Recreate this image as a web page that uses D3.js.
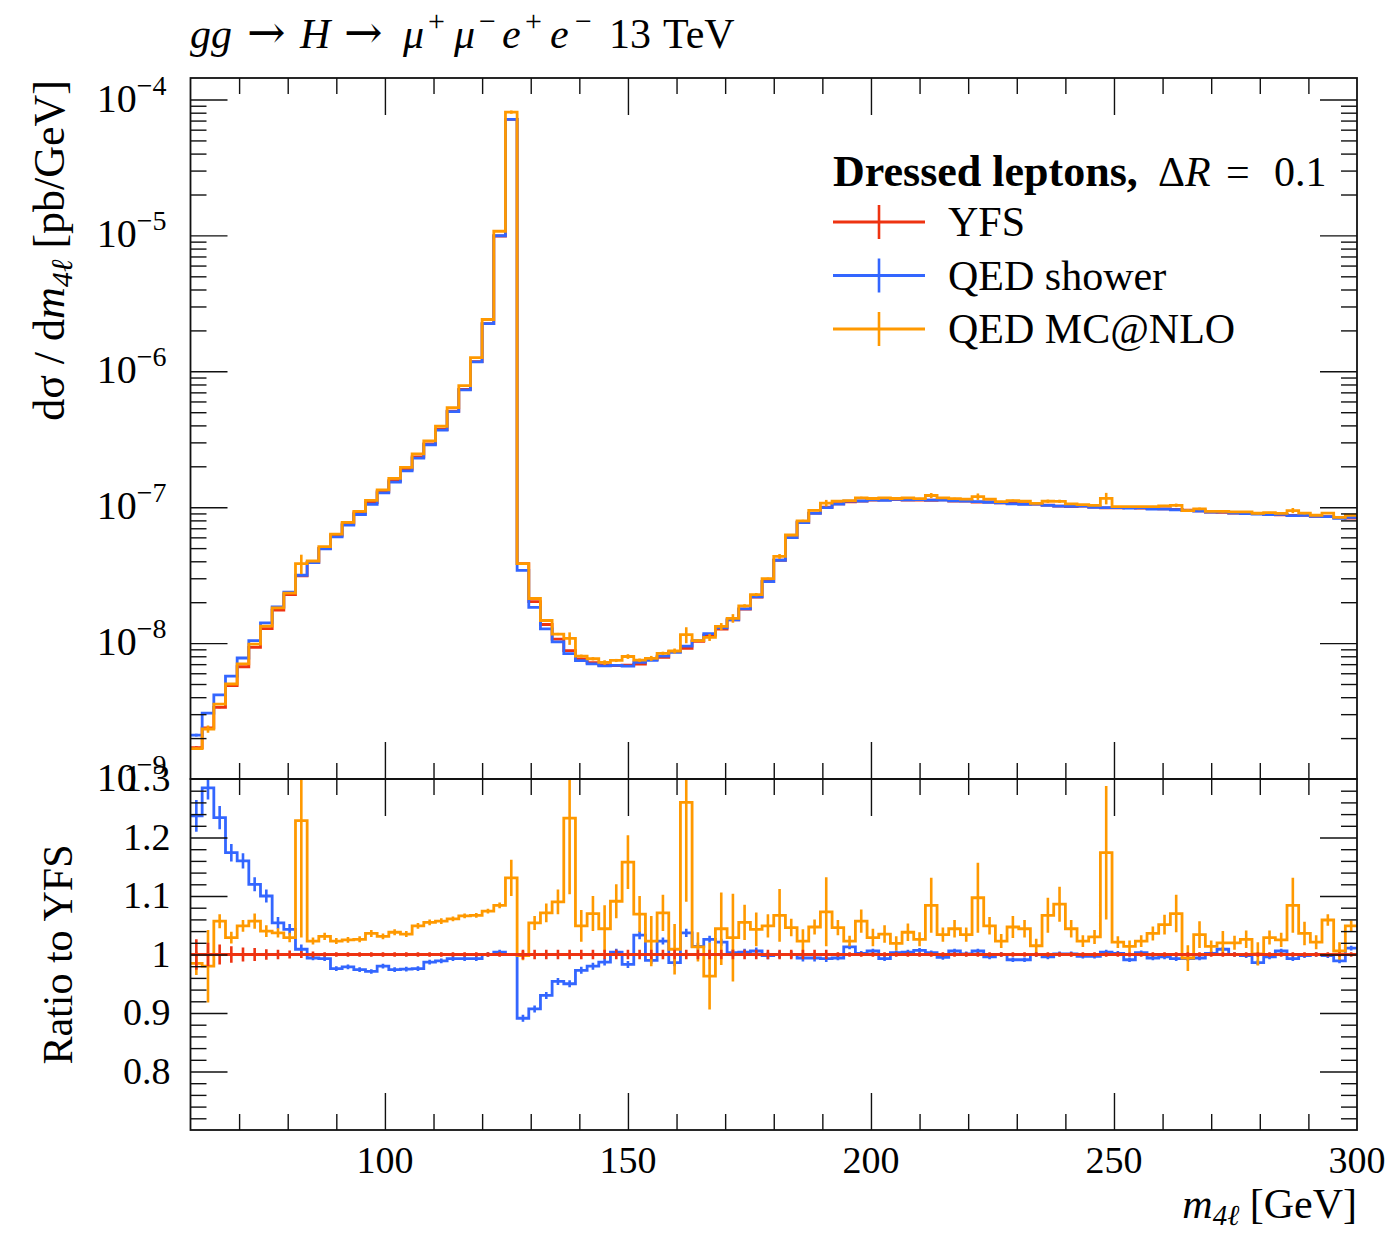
<!DOCTYPE html>
<html>
<head>
<meta charset="utf-8">
<script src="https://cdn.jsdelivr.net/npm/d3@7"></script>
<style>
  body { margin: 0; background: #fff; }
  text { font-family: "Liberation Serif", "DejaVu Serif", serif; fill: #000; }
</style>
</head>
<body>
<svg id="chart" width="1391" height="1234"></svg>
<script>
// binning: 100 bins of 2.4 GeV from 60 to 300
const binLow = 60, binWidth = 2.4, nBins = 100;

// YFS dσ/dm4l [pb/GeV]
const yfsXsec = [1.7e-9, 2.38e-9, 3.37e-9, 4.86e-9, 6.7e-9, 9.3e-9, 1.28e-8, 1.75e-8, 2.27e-8, 3.13e-8,
  3.93e-8, 4.97e-8, 6.2e-8, 7.54e-8, 9.07e-8, 1.083e-7, 1.30e-7, 1.57e-7, 1.90e-7, 2.35e-7,
  2.92e-7, 3.73e-7, 5.09e-7, 7.36e-7, 1.18e-6, 2.24e-6, 9.9e-6, 7.15e-5, 3.85e-8, 2.02e-8,
  1.37e-8, 1.07e-8, 8.8e-9, 7.65e-9, 7.17e-9, 6.9e-9, 6.83e-9, 6.88e-9, 7.0e-9, 7.55e-9,
  7.85e-9, 8.67e-9, 9.15e-9, 1.03e-8, 1.145e-8, 1.27e-8, 1.48e-8, 1.78e-8, 2.18e-8, 2.84e-8,
  4.07e-8, 5.97e-8, 7.75e-8, 9.05e-8, 1.0e-7, 1.06e-7, 1.093e-7, 1.109e-7, 1.126e-7, 1.132e-7,
  1.137e-7, 1.129e-7, 1.129e-7, 1.125e-7, 1.133e-7, 1.109e-7, 1.108e-7, 1.091e-7, 1.092e-7, 1.076e-7,
  1.069e-7, 1.06e-7, 1.053e-7, 1.037e-7, 1.018e-7, 1.012e-7, 1.021e-7, 1.002e-7, 9.9e-8, 9.9e-8,
  9.96e-8, 9.87e-8, 9.75e-8, 9.73e-8, 9.65e-8, 9.5e-8, 9.4e-8, 9.2e-8, 9.15e-8, 9.05e-8,
  9.0e-8, 9.02e-8, 8.87e-8, 8.8e-8, 8.72e-8, 8.72e-8, 8.55e-8, 8.53e-8, 8.38e-8, 8.32e-8];

// YFS relative stat. error (ratio units)
const yfsErr = [0.026, 0.02, 0.017, 0.014, 0.012, 0.011, 0.009, 0.008, 0.007, 0.006,
  0.005, 0.004, 0.004, 0.004, 0.004, 0.004, 0.004, 0.004, 0.004, 0.004,
  0.004, 0.004, 0.004, 0.004, 0.004, 0.004, 0.004, 0.002, 0.008, 0.008,
  0.008, 0.008, 0.008, 0.008, 0.008, 0.008, 0.008, 0.008, 0.008, 0.008,
  0.008, 0.008, 0.008, 0.008, 0.008, 0.008, 0.008, 0.008, 0.008, 0.008,
  0.008, 0.008, 0.008, 0.008, 0.008, 0.004, 0.004, 0.004, 0.004, 0.004,
  0.004, 0.004, 0.004, 0.004, 0.004, 0.004, 0.004, 0.004, 0.004, 0.004,
  0.004, 0.004, 0.004, 0.004, 0.004, 0.004, 0.004, 0.004, 0.004, 0.004,
  0.004, 0.004, 0.004, 0.004, 0.004, 0.004, 0.004, 0.004, 0.004, 0.004,
  0.004, 0.004, 0.004, 0.004, 0.004, 0.004, 0.004, 0.004, 0.004, 0.004];

// QED shower / YFS
const showerRatio = [1.237, 1.285, 1.234, 1.174, 1.16, 1.12, 1.10, 1.054, 1.043, 1.009,
  0.994, 0.993, 0.976, 0.979, 0.974, 0.971, 0.98, 0.974, 0.975, 0.976,
  0.987, 0.989, 0.993, 0.993, 0.993, 1.0, 1.004, 1.0, 0.891, 0.907,
  0.93, 0.954, 0.95, 0.973, 0.98, 0.987, 1.004, 0.983, 1.033, 0.99,
  1.023, 0.986, 1.037, 1.014, 1.026, 1.021, 1.003, 1.004, 1.006, 0.998,
  1.0, 1.0, 0.994, 0.994, 0.993, 0.994, 1.013, 1.002, 1.006, 0.993,
  1.003, 1.004, 1.007, 1.003, 0.995, 1.006, 1.001, 1.006, 0.996, 1.0,
  0.991, 0.991, 1.0, 0.996, 1.001, 1.001, 0.997, 0.997, 1.004, 1.002,
  0.991, 1.003, 0.994, 0.996, 0.993, 0.993, 0.994, 1.002, 1.009, 1.0,
  0.998, 0.986, 0.996, 1.006, 0.993, 0.998, 1.0, 0.998, 0.989, 1.011];

const showerErr = [0.027, 0.02, 0.02, 0.015, 0.013, 0.012, 0.011, 0.01, 0.009, 0.008,
  0.004, 0.004, 0.004, 0.004, 0.004, 0.004, 0.004, 0.004, 0.004, 0.004,
  0.004, 0.004, 0.004, 0.004, 0.004, 0.004, 0.004, 0.002, 0.006, 0.006,
  0.006, 0.006, 0.006, 0.006, 0.006, 0.006, 0.006, 0.006, 0.007, 0.006,
  0.006, 0.006, 0.007, 0.006, 0.006, 0.006, 0.006, 0.006, 0.006, 0.006,
  0.006, 0.006, 0.006, 0.006, 0.006, 0.004, 0.004, 0.004, 0.004, 0.004,
  0.004, 0.004, 0.004, 0.004, 0.004, 0.004, 0.004, 0.004, 0.004, 0.004,
  0.004, 0.004, 0.004, 0.004, 0.004, 0.004, 0.004, 0.004, 0.004, 0.004,
  0.004, 0.004, 0.004, 0.004, 0.004, 0.004, 0.004, 0.004, 0.004, 0.004,
  0.004, 0.004, 0.004, 0.004, 0.004, 0.004, 0.004, 0.004, 0.004, 0.004];

// QED MC@NLO / YFS
const mcnloRatio = [0.985, 0.98, 1.057, 1.029, 1.049, 1.057, 1.04, 1.037, 1.029, 1.229,
  1.023, 1.031, 1.023, 1.025, 1.026, 1.036, 1.031, 1.038, 1.035, 1.049,
  1.055, 1.057, 1.061, 1.066, 1.067, 1.074, 1.084, 1.131, 0.998, 1.054,
  1.071, 1.09, 1.233, 1.049, 1.07, 1.044, 1.091, 1.158, 1.069, 1.023,
  1.071, 1.009, 1.26, 1.013, 0.963, 1.044, 1.029, 1.055, 1.043, 1.049,
  1.067, 1.046, 1.023, 1.047, 1.073, 1.046, 1.023, 1.057, 1.029, 1.035,
  1.019, 1.038, 1.026, 1.084, 1.034, 1.044, 1.034, 1.097, 1.049, 1.023,
  1.047, 1.044, 1.015, 1.067, 1.086, 1.044, 1.023, 1.03, 1.174, 1.021,
  1.014, 1.023, 1.036, 1.051, 1.07, 0.994, 1.034, 1.014, 1.02, 1.02,
  1.026, 1.001, 1.029, 1.025, 1.084, 1.036, 1.021, 1.059, 1.006, 1.049];

const mcnloErr = [0.02, 0.062, 0.012, 0.01, 0.01, 0.013, 0.01, 0.008, 0.008, 0.2,
  0.006, 0.006, 0.005, 0.005, 0.005, 0.006, 0.005, 0.005, 0.005, 0.005,
  0.005, 0.005, 0.004, 0.004, 0.004, 0.004, 0.005, 0.031, 0.008, 0.012,
  0.016, 0.021, 0.13, 0.027, 0.03, 0.04, 0.029, 0.046, 0.031, 0.043,
  0.031, 0.043, 0.17, 0.025, 0.057, 0.062, 0.075, 0.03, 0.029, 0.02,
  0.045, 0.015, 0.02, 0.013, 0.059, 0.013, 0.009, 0.02, 0.015, 0.015,
  0.012, 0.015, 0.012, 0.047, 0.012, 0.015, 0.012, 0.06, 0.015, 0.012,
  0.019, 0.015, 0.012, 0.03, 0.03, 0.015, 0.01, 0.012, 0.114, 0.01,
  0.01, 0.01, 0.012, 0.017, 0.032, 0.022, 0.023, 0.01, 0.02, 0.012,
  0.015, 0.02, 0.012, 0.012, 0.047, 0.02, 0.012, 0.01, 0.015, 0.009];

const seriesNames = ["YFS", "QED shower", "QED MC@NLO"];
const seriesColors = ["#EE3311", "#3366FF", "#FF9900"];

const mainYTicks = [1e-9, 1e-8, 1e-7, 1e-6, 1e-5, 1e-4];
const ratioYTicks = [0.8, 0.9, 1, 1.1, 1.2, 1.3];
const xTicks = [100, 150, 200, 250, 300];

// layout
const frame = { left: 190.5, right: 1357, top: 78, mid: 779, bottom: 1130 };
const majorLen = 37, minorLen = 16;

const svg = d3.select("#chart");

const edges = d3.range(nBins + 1).map(i => binLow + i * binWidth);
const centers = d3.range(nBins).map(i => binLow + (i + 0.5) * binWidth);

const x = d3.scaleLinear().domain([60, 300]).range([frame.left, frame.right]);
const yMain = d3.scaleLog().domain([1e-9, 1.44e-4]).range([frame.mid, frame.top]);
const yRatio = d3.scaleLinear().domain([0.7, 1.3]).range([frame.bottom, frame.mid]);

//series for both panels
const ratioOne = yfsXsec.map(v => v / v);
const main = [
    { vals: yfsXsec, errs: yfsXsec.map((v, i) => v * yfsErr[i]) },
    { vals: yfsXsec.map((v, i) => v * showerRatio[i]), errs: yfsXsec.map((v, i) => v * showerErr[i]) },
    { vals: yfsXsec.map((v, i) => v * mcnloRatio[i]), errs: yfsXsec.map((v, i) => v * mcnloErr[i]) }
];
const ratio = [
    { vals: ratioOne, errs: yfsErr },
    { vals: showerRatio, errs: showerErr },
    { vals: mcnloRatio, errs: mcnloErr }
];

const defs = svg.append("defs");
defs.append("clipPath").attr("id", "clipMain").append("rect")
    .attr("x", frame.left).attr("y", frame.top)
    .attr("width", frame.right - frame.left).attr("height", frame.mid - frame.top);
defs.append("clipPath").attr("id", "clipRatio").append("rect")
    .attr("x", frame.left).attr("y", frame.mid)
    .attr("width", frame.right - frame.left).attr("height", frame.bottom - frame.mid);

function stepPath(vals, yScale) {
    const pts = vals.map((v, i) => [x(edges[i]), yScale(v)]);
    pts.push([x(edges[nBins]), yScale(vals[nBins - 1])]);
    return d3.line().curve(d3.curveStepAfter)(pts);
}

function drawHist(g, s, color, yScale) {
    g.append("g")
        .attr("stroke", color).attr("stroke-width", 2.6)
        .selectAll("line")
        .data(s.vals)
        .join("line")
          .attr("x1", (d, i) => x(centers[i])).attr("x2", (d, i) => x(centers[i]))
          .attr("y1", (d, i) => yScale(d - s.errs[i]))
          .attr("y2", (d, i) => yScale(d + s.errs[i]));
    g.append("path")
        .attr("d", stepPath(s.vals, yScale))
        .attr("fill", "none").attr("stroke", color).attr("stroke-width", 2.8);
}

const gMain = svg.append("g").attr("clip-path", "url(#clipMain)");
[0, 1, 2].forEach(k => drawHist(gMain, main[k], seriesColors[k], yMain));

const gRatio = svg.append("g").attr("clip-path", "url(#clipRatio)");
[1, 2, 0].forEach(k => drawHist(gRatio, ratio[k], seriesColors[k], yRatio));

//ticks
const xMinor = d3.range(70, 300, 10).filter(v => v % 50 !== 0);
const mainMinor = [];
for (let e = -9; e <= -5; e++) for (let m = 2; m <= 9; m++) mainMinor.push(m * Math.pow(10, e));
const ratioMinor = d3.range(72, 130, 2).filter(v => v % 10 !== 0).map(v => v / 100);

function tickAxis(axis, values, len, tx, ty) {
    const g = svg.append("g")
        .attr("transform", `translate(${tx},${ty})`)
        .call(axis.tickValues(values).tickSize(-len).tickFormat(""));
    g.select(".domain").remove();
    g.selectAll(".tick line").attr("stroke", "#111").attr("stroke-width", 1.4);
    return g;
}

[[frame.top, d3.axisTop], [frame.mid, d3.axisBottom], [frame.mid, d3.axisTop], [frame.bottom, d3.axisBottom]]
    .forEach(([yy, ax]) => {
        tickAxis(ax(x), [100, 150, 200, 250], majorLen, 0, yy);
        tickAxis(ax(x), xMinor, minorLen, 0, yy);
    });

[[frame.left, d3.axisLeft], [frame.right, d3.axisRight]].forEach(([xx, ax]) => {
    tickAxis(ax(yMain), mainYTicks.slice(1), majorLen, xx, 0);
    tickAxis(ax(yMain), mainMinor, minorLen, xx, 0);
    tickAxis(ax(yRatio), ratioYTicks.slice(0, 5), majorLen, xx, 0);
    tickAxis(ax(yRatio), ratioMinor, minorLen, xx, 0);
});

//tick labels
const labelSize = 38;
svg.append("g").selectAll("text")
    .data(xTicks)
    .join("text")
      .attr("x", d => x(d)).attr("y", frame.bottom + 43)
      .attr("text-anchor", "middle").attr("font-size", labelSize)
      .text(d => d);

svg.append("g").selectAll("text")
    .data(ratioYTicks)
    .join("text")
      .attr("x", frame.left - 20).attr("y", d => yRatio(d) + 12)
      .attr("text-anchor", "end").attr("font-size", labelSize)
      .text(d3.format("~g"));

const mainLab = svg.append("g").selectAll("text")
    .data(mainYTicks)
    .join("text")
      .attr("x", frame.left - 24).attr("y", d => yMain(d) + 12)
      .attr("text-anchor", "end").attr("font-size", 40);
mainLab.append("tspan").text("10");
mainLab.append("tspan").attr("dy", -17).attr("font-size", 28)
    .text(d => "\u2212" + Math.round(-Math.log10(d)));

//frames
[[frame.top, frame.mid], [frame.mid, frame.bottom]].forEach(([t, b]) => {
    svg.append("rect")
        .attr("x", frame.left).attr("y", t)
        .attr("width", frame.right - frame.left).attr("height", b - t)
        .attr("fill", "none").attr("stroke", "#111").attr("stroke-width", 1.8);
});

//title, pieces placed one by one
const title = svg.append("text").attr("font-size", 42);
[["gg", "italic", 190], ["\u2192", "arrow", 247], ["H", "italic", 300], ["\u2192", "arrow", 344],
 ["\u03bc", "italic", 403], ["+", "sup", 428], ["\u03bc", "italic", 454], ["\u2212", "sup", 479],
 ["e", "italic", 502], ["+", "sup", 525], ["e", "italic", 550], ["\u2212", "sup", 575],
 ["13", null, 609], ["TeV", null, 663]]
    .forEach(([t, s, px]) => {
        const ts = title.append("tspan").attr("x", px).attr("y", s === "sup" ? 31 : 48).text(t);
        if (s === "italic") ts.attr("font-style", "italic");
        if (s === "arrow") ts.style("font-family", "'DejaVu Serif'").attr("font-size", 46);
        if (s === "sup") ts.attr("font-size", 30);
    });

//axis labels
const yLab = svg.append("text")
    .attr("transform", `translate(64, ${frame.top + 2}) rotate(-90)`)
    .attr("text-anchor", "end").attr("font-size", 44);
yLab.append("tspan").text("d\u03c3 / d");
yLab.append("tspan").attr("font-style", "italic").text("m");
yLab.append("tspan").attr("font-size", 30).attr("dy", 8).attr("font-style", "italic").text("4\u2113");
yLab.append("tspan").attr("dy", -8).text(" [pb/GeV]");

svg.append("text")
    .attr("transform", `translate(72, ${yRatio(1)}) rotate(-90)`)
    .attr("text-anchor", "middle").attr("font-size", 42)
    .text("Ratio to YFS");

const xLab = svg.append("text")
    .attr("x", frame.right).attr("y", 1218)
    .attr("text-anchor", "end").attr("font-size", 42);
xLab.append("tspan").attr("font-style", "italic").text("m");
xLab.append("tspan").attr("font-size", 29).attr("dy", 7).attr("font-style", "italic").text("4\u2113");
xLab.append("tspan").attr("dy", -7).text(" [GeV]");

//legend
const legTitle = svg.append("text").attr("y", 186).attr("font-size", 42);
legTitle.append("tspan").attr("x", 833).attr("font-weight", "bold").attr("font-size", 44).text("Dressed leptons,");
legTitle.append("tspan").attr("x", 1158).text("\u0394");
legTitle.append("tspan").attr("font-style", "italic").text("R");
legTitle.append("tspan").attr("x", 1226).text("=");
legTitle.append("tspan").attr("x", 1274).text("0.1");

const legend = svg.append("g")
    .selectAll("g")
    .data(seriesNames)
    .join("g")
      .attr("transform", (d, i) => `translate(833, ${222 + i * 53.5})`);

legend.append("line")
    .attr("x1", 0).attr("x2", 92)
    .attr("stroke", (d, i) => seriesColors[i]).attr("stroke-width", 2.8);
legend.append("line")
    .attr("x1", 46).attr("x2", 46).attr("y1", -17).attr("y2", 17)
    .attr("stroke", (d, i) => seriesColors[i]).attr("stroke-width", 2.6);
legend.append("text")
    .attr("x", 115).attr("y", 14)
    .attr("font-size", 42)
    .text(d => d);
</script>
</body>
</html>
